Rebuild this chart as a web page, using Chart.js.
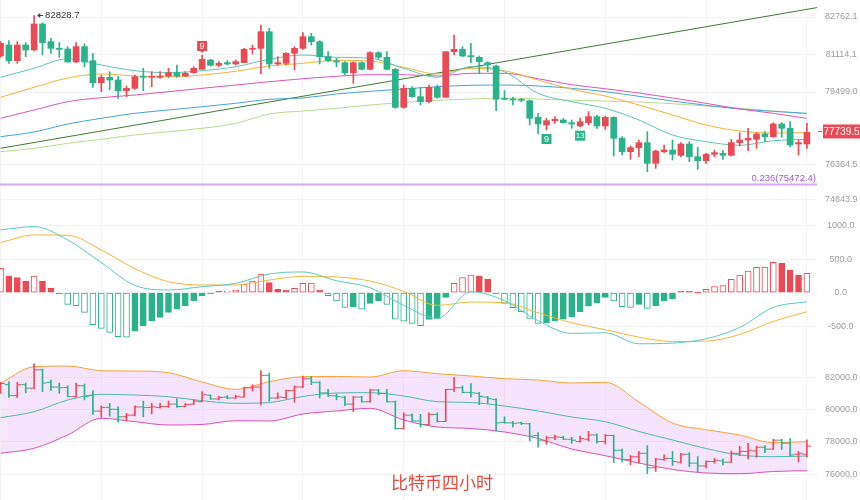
<!DOCTYPE html>
<html>
<head>
<meta charset="utf-8">
<title>比特币四小时</title>
<script src="https://cdn.jsdelivr.net/npm/chart.js@4.4.1/dist/chart.umd.min.js"></script>
<style>
  html, body { margin: 0; padding: 0; background: #fff; }
  #wrap { position: relative; width: 860px; height: 500px; overflow: hidden; }
  canvas { position: absolute; left: 0; }
  #title { position: absolute; left: 391px; top: 469px; line-height: 1; color: #e8473f;
           font: 17px "Noto Sans CJK SC", sans-serif; white-space: nowrap; }
</style>
</head>
<body>
<div id="wrap">
  <canvas id="mainChart" width="860" height="210" style="top:0"></canvas>
  <canvas id="macdChart" width="860" height="140" style="top:210px"></canvas>
  <canvas id="bollChart" width="860" height="150" style="top:350px"></canvas>
  <div id="title">比特币四小时</div>
</div>
<script>
// BTC 4h candles (97 bars, oldest first)
const opens = [81066, 81544, 80863, 81544, 81327, 82458, 81689, 81399, 81370, 80805,
  81472, 80863, 79906, 80138, 80022, 79558, 79659, 80166, 80138, 80138,
  80195, 80341, 80195, 80341, 80486, 80892, 80660, 80776, 80718, 80776,
  81356, 81399, 82124, 80718, 80747, 81182, 81399, 81907, 81689, 81037,
  80848, 80776, 80341, 80776, 80486, 81211, 81008, 80486, 78833, 79659,
  79297, 79079, 79703, 79268, 81254, 81356, 81066, 81008, 80776, 80631,
  79210, 79181, 79181, 79122, 78397, 78064, 78253, 78282, 78166, 78020,
  78166, 78427, 78020, 78398, 77484, 76904, 77078, 77296, 76397, 76904,
  76977, 76745, 77238, 76687, 76513, 76788, 76832, 76745, 77296, 77412,
  77441, 77673, 77557, 78108, 77919, 77238, 77238];
const highs = [81689, 81733, 81689, 81646, 82828.7, 82516, 81834, 81646, 81472, 81646,
  81588, 81182, 80239, 80384, 80166, 79761, 80239, 80529, 80384, 80384,
  80529, 80674, 80384, 80602, 81109, 80921, 80819, 80863, 80892, 81399,
  81544, 82414, 82269, 81037, 81211, 81472, 82081, 82052, 81733, 81254,
  80964, 80819, 80819, 80819, 81254, 81254, 81254, 80529, 79804, 79732,
  79703, 79804, 79804, 81254, 81979, 81472, 81617, 81066, 80819, 80674,
  79558, 79268, 79224, 79152, 78571, 78354, 78427, 78354, 78282, 78354,
  78644, 78499, 78456, 78427, 77557, 77151, 77412, 77774, 76977, 77194,
  77412, 77296, 77339, 77093, 76832, 76977, 76948, 77441, 77731, 77919,
  77731, 77774, 78166, 78166, 78209, 77412, 78137];
const lows = [81008, 80747, 80747, 81037, 81300, 81109, 81182, 81008, 80790, 80776,
  80602, 79703, 79514, 79587, 79224, 79297, 79616, 79558, 79732, 80094,
  80138, 80138, 80166, 80312, 80486, 80631, 80602, 80674, 80674, 80776,
  81153, 80283, 80529, 80674, 80674, 80457, 81356, 81544, 80718, 80819,
  80602, 80239, 79877, 80457, 80457, 80921, 80457, 78789, 78789, 79268,
  78934, 79036, 79224, 79268, 81109, 81037, 80776, 80312, 80384, 78688,
  79152, 78934, 79079, 78064, 77673, 77847, 78137, 78137, 77919, 77991,
  78064, 77919, 77876, 76716, 76759, 76570, 76687, 76034, 76179, 76861,
  76542, 76687, 76469, 76136, 76397, 76687, 76570, 76716, 77151, 76948,
  77049, 77339, 77528, 77528, 77122, 76759, 77049];
const closes = [81617, 80863, 81544, 81327, 82458, 81646, 81399, 81356, 80805, 81472,
  80805, 79906, 80138, 80022, 79558, 79659, 80166, 80138, 80166, 80195,
  80341, 80195, 80312, 80529, 80921, 80660, 80747, 80718, 80819, 81356,
  81399, 82124, 80718, 80776, 81182, 81399, 81907, 81689, 81037, 80863,
  80805, 80341, 80776, 80486, 81211, 81008, 80486, 78833, 79659, 79297,
  79079, 79703, 79268, 81254, 81356, 81066, 81037, 80819, 80674, 79181,
  79181, 79152, 79137, 78354, 78108, 78253, 78311, 78166, 78108, 78209,
  78427, 78020, 78398, 77484, 76904, 77078, 77296, 76397, 76933, 76977,
  76788, 77238, 76687, 76513, 76788, 76861, 76745, 77296, 77412, 77484,
  77673, 77557, 78108, 77919, 77194, 77296, 77739.5];

// indicator curves, sampled every 4 bars
const sampleIdx = [0, 4, 8, 12, 16, 20, 24, 28, 32, 36, 40, 44, 48, 52, 56, 60, 64, 68, 72, 76, 80, 84, 88, 92, 96];
const maTeal = [80139, 80531, 80948, 80674, 80426, 80339, 80426, 80600, 80922, 81109, 81009, 80966, 80531,
  80139, 80600, 80383, 79443, 79078, 78790, 78282, 77629, 77338, 77181, 77381, 77442];
const maOrange = [79269, 79704, 80109, 80283, 80196, 80165, 80239, 80400, 80631, 80748, 80878, 80848, 80574,
  80283, 80530, 80426, 80021, 79617, 79326, 78934, 78499, 78064, 77803, 77716, 77730];
const maPink = [78355, 78717, 79078, 79252, 79369, 79513, 79660, 79804, 79948, 80078, 80183, 80252, 80252,
  80196, 80313, 80313, 80078, 79817, 79643, 79456, 79239, 79008, 78760, 78573, 78355];
const maBlue = [77555, 77760, 78108, 78355, 78573, 78717, 78860, 79008, 79182, 79239, 79413, 79530, 79630,
  79730, 79791, 79804, 79761, 79660, 79513, 79312, 79108, 78921, 78760, 78660, 78573];
const maLight = [76903, 77050, 77268, 77442, 77629, 77773, 77920, 78138, 78543, 78673, 78791, 78934, 79051,
  79138, 79195, 79239, 79195, 79138, 79108, 79065, 78991, 78891, 78791, 78673, 78543];
const trendIdx = [0, 97.2];
const trendVals = [77050, 83171];
const fibLevel = 75472.4;
const fibText = '0.236(75472.4)';

const macdHist = [365, 250, 225, 175, 250, 175, 65, -15, -175, -195,
  -295, -480, -535, -595, -660, -665, -575, -495, -420, -370,
  -295, -245, -195, -125, -50, -20, 20, 25, 40, 125,
  175, 280, 150, 50, 40, 65, 140, 145, 40, -45,
  -125, -220, -210, -245, -160, -125, -175, -395, -425, -460,
  -495, -400, -385, -70, 140, 225, 265, 250, 200, -20,
  -160, -225, -285, -385, -460, -450, -420, -395, -360, -285,
  -200, -150, -70, -125, -210, -220, -175, -235, -195, -125,
  -95, 20, 20, 8, 50, 90, 105, 200, 265, 325,
  380, 385, 455, 440, 340, 265, 290];
const macdDif = [940, 990, 790, 450, 110, 40, 90, 140, 280, 310, 180, 75, -190,
  -385, 15, -120, -420, -610, -600, -765, -755, -690, -520, -220, -135];
const macdDea = [750, 865, 860, 640, 360, 165, 115, 115, 190, 245, 235, 175, 20,
  -190, -140, -150, -300, -450, -555, -665, -730, -725, -625, -430, -285];

const bbUpper = [81629, 82656, 82699, 82409, 82390, 82285, 81709, 81257, 81728, 82037, 82050, 82019, 82409,
  82223, 82080, 81913, 81833, 81647, 81690, 80471, 79171, 78756, 78428, 77952, 78014];
const bbMid = [79499, 79871, 80595, 80948, 80904, 80799, 80552, 80391, 80440, 80812, 81028, 81047, 80842,
  80490, 80440, 80223, 79914, 79543, 79252, 78645, 78119, 77593, 77190, 77085, 77128];
const bbLower = [77296, 77605, 78428, 79462, 79252, 79047, 79078, 79314, 79295, 79728, 79914, 80081, 79357,
  78924, 78831, 78614, 78212, 77562, 77147, 76695, 76293, 76076, 76033, 76169, 76219];

// axis ticks
const mainTicks = [82762.1, 81114.1, 79499.0, 76364.5, 74843.9];
const macdTicks = [1000, 500, 0, -500];
const bollTicks = [82000, 80000, 78000, 76000];
const gridIdx = [6, 18, 30, 42, 54, 66, 78, 90];

const UP = '#eb4a55';
const DOWN = '#2ab38a';
const X_MIN = -0.06, X_MAX = 97.2;

Chart.defaults.font.family = 'Arial, "Liberation Sans", sans-serif';
Chart.defaults.animation = false;
Chart.defaults.events = [];
Chart.defaults.layout.autoPadding = false;
Chart.defaults.plugins.legend.display = false;
Chart.defaults.plugins.tooltip.enabled = false;

const idx = opens.map((_, i) => i);
const candleColors = idx.map(i => closes[i] >= opens[i] ? UP : DOWN);
const pts = (xs, vals) => xs.map((x, k) => ({ x: x, y: vals[k] }));

function lineSet(xs, vals, color, width, extra) {
  return Object.assign({
    type: 'line', data: pts(xs, vals), borderColor: color, borderWidth: width || 1,
    pointRadius: 0, cubicInterpolationMode: 'monotone', fill: false, order: 5
  }, extra || {});
}

function xScale() {
  return {
    type: 'linear', min: X_MIN, max: X_MAX, offset: false,
    afterBuildTicks: s => { s.ticks = gridIdx.map(v => ({ value: v })); },
    afterFit: s => { s.height = 0; },
    ticks: { display: false },
    grid: { color: '#f3f3f3', drawTicks: false },
    border: { display: false }
  };
}

function yScale(min, max, ticks, pad) {
  return {
    position: 'right', min: min, max: max,
    afterBuildTicks: s => { s.ticks = ticks.map(v => ({ value: v })); },
    // fixed axis width, and no vertical padding so the plot fills the pane
    afterFit: s => { s.width = 43; s.paddingTop = 0; s.paddingBottom = 0; },
    ticks: { color: '#9b9b9b', font: { size: 9 }, padding: pad, crossAlign: 'center', autoSkip: false,
             callback: v => Number(v).toFixed(1) },
    grid: { color: '#f3f3f3', drawTicks: false },
    border: { display: false }
  };
}

// little boxes with a number (sequence count) next to a candle
function countTag(ctx, cx, edgeY, text, color, below) {
  const w = 10, h = 10;
  const top = below ? edgeY + 4 : edgeY - 4 - h;
  ctx.fillStyle = color;
  ctx.fillRect(cx - w / 2, top, w, h);
  if (!below) {
    ctx.beginPath();
    ctx.moveTo(cx - 2, top + h); ctx.lineTo(cx + 2, top + h); ctx.lineTo(cx, top + h + 2);
    ctx.fill();
  }
  ctx.fillStyle = '#fff';
  ctx.font = (text.length > 1 ? '8px' : '9px') + ' Arial';
  ctx.textAlign = 'center';
  ctx.textBaseline = 'middle';
  ctx.fillText(text, cx, top + h / 2 + 0.5);
}

const mainMarks = {
  id: 'mainMarks',
  afterDatasetsDraw(chart) {
    const { ctx, scales: { x, y } } = chart;
    ctx.save();
    // highest high marker
    const maxIdx = highs.indexOf(Math.max(...highs));
    const hx = x.getPixelForValue(maxIdx), hy = y.getPixelForValue(highs[maxIdx]);
    ctx.strokeStyle = '#444'; ctx.fillStyle = '#444'; ctx.lineWidth = 1;
    ctx.beginPath(); ctx.moveTo(hx + 5, hy); ctx.lineTo(hx + 9, hy); ctx.stroke();
    ctx.beginPath(); ctx.moveTo(hx + 3, hy); ctx.lineTo(hx + 6, hy - 2.5); ctx.lineTo(hx + 6, hy + 2.5); ctx.closePath(); ctx.fill();
    ctx.fillStyle = '#333';
    ctx.font = '9.5px Arial'; ctx.textAlign = 'left'; ctx.textBaseline = 'middle';
    ctx.fillText(highs[maxIdx].toFixed(1), hx + 11, hy);

    countTag(ctx, x.getPixelForValue(24), y.getPixelForValue(highs[24]), '9', UP, false);
    countTag(ctx, x.getPixelForValue(65), y.getPixelForValue(lows[65]), '9', DOWN, true);
    countTag(ctx, x.getPixelForValue(69), y.getPixelForValue(lows[69]), '13', DOWN, true);

    // fib label
    ctx.fillStyle = '#9c5bd6';
    ctx.font = '9.5px Arial'; ctx.textAlign = 'right'; ctx.textBaseline = 'middle';
    ctx.fillText(fibText, chart.chartArea.right - 1, y.getPixelForValue(fibLevel) - 6);
    ctx.restore();
  },
  afterDraw(chart) {
    const { ctx, scales: { y } } = chart;
    const last = closes[closes.length - 1];
    const ty = y.getPixelForValue(last) - 1;
    const right = chart.chartArea.right;
    ctx.save();
    ctx.fillStyle = UP;
    ctx.fillRect(right + 1, ty - 0.5, 4, 1);
    ctx.fillRect(right + 6, ty - 7, 37, 14);
    ctx.fillStyle = '#fff';
    ctx.font = '10px Arial'; ctx.textAlign = 'center'; ctx.textBaseline = 'middle';
    ctx.fillText(last.toFixed(1), right + 24.5, ty + 0.5);
    ctx.restore();
  }
};

new Chart(document.getElementById('mainChart'), {
  type: 'bar',
  data: {
    datasets: [
      { data: idx.map(i => ({ x: i, y: [opens[i], closes[i]] })), backgroundColor: candleColors,
        barThickness: 6, minBarLength: 1, grouped: false, order: 0 },
      { data: idx.map(i => ({ x: i, y: [lows[i], highs[i]] })), backgroundColor: candleColors,
        barThickness: 1, grouped: false, order: 1 },
      lineSet(sampleIdx, maTeal, '#5fc4b8'),
      lineSet(sampleIdx, maOrange, '#f4b331'),
      lineSet(sampleIdx, maPink, '#dc55b4'),
      lineSet(sampleIdx, maBlue, '#44a3d6'),
      lineSet(sampleIdx, maLight, '#b8da8e'),
      lineSet(trendIdx, trendVals, '#3d7a35', 1, { cubicInterpolationMode: 'default' }),
      lineSet([X_MIN, X_MAX], [fibLevel, fibLevel], '#d5a8f8', 2, { cubicInterpolationMode: 'default' })
    ]
  },
  options: {
    responsive: false,
    scales: { x: xScale(), y: yScale(74366.6, 83501.6, mainTicks, 8) }
  },
  plugins: [mainMarks]
});

const histColors = macdHist.map(v => v >= 0 ? UP : DOWN);
const histFill = macdHist.map((v, i) =>
  (i === 0 || Math.abs(v) > Math.abs(macdHist[i - 1])) ? '#ffffff' : histColors[i]);

new Chart(document.getElementById('macdChart'), {
  type: 'bar',
  data: {
    datasets: [
      { data: idx.map(i => ({ x: i, y: [0, macdHist[i]] })), backgroundColor: histFill,
        borderColor: histColors, borderWidth: 1, borderSkipped: false,
        barThickness: 6, minBarLength: 1, grouped: false, order: 2 },
      lineSet(sampleIdx, macdDif, '#5cc8c2', 1, { order: 0 }),
      lineSet(sampleIdx, macdDea, '#f2b53a', 1, { order: 1 })
    ]
  },
  options: {
    responsive: false,
    scales: { x: xScale(), y: yScale(-858, 1238, macdTicks, 10) }
  }
});

new Chart(document.getElementById('bollChart'), {
  type: 'bar',
  data: {
    datasets: [
      lineSet(sampleIdx, bbUpper, '#f3a23a', 1, { fill: '+2', backgroundColor: 'rgba(225,172,245,0.32)', order: 6 }),
      lineSet(sampleIdx, bbMid, '#4db6b0', 1, { order: 5 }),
      lineSet(sampleIdx, bbLower, '#d951b6', 1, { order: 5 }),
      { data: idx.map(i => ({ x: i, y: [lows[i], highs[i]] })), backgroundColor: candleColors,
        barThickness: 1, grouped: false, order: 1 },
      { type: 'line', data: idx.map(i => ({ x: i - 0.25, y: opens[i] })), showLine: false,
        pointStyle: 'line', pointRadius: 2.1, pointBorderWidth: 1, pointBorderColor: candleColors, order: 0 },
      { type: 'line', data: idx.map(i => ({ x: i + 0.25, y: closes[i] })), showLine: false,
        pointStyle: 'line', pointRadius: 2.1, pointBorderWidth: 1, pointBorderColor: candleColors, order: 0 }
    ]
  },
  options: {
    responsive: false,
    scales: { x: xScale(), y: yScale(74405, 83690, bollTicks, 8) }
  }
});
</script>
</body>
</html>
